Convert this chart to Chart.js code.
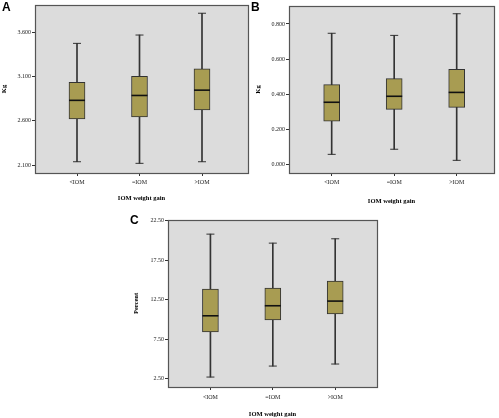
<!DOCTYPE html>
<html>
<head>
<meta charset="utf-8">
<script src="https://cdn.jsdelivr.net/npm/chart.js@4.4.0/dist/chart.umd.min.js"></script>
<style>
  html, body { margin: 0; padding: 0; background: #ffffff; }
  body { width: 499px; height: 418px; position: relative; overflow: hidden; }
  .wrap { position: absolute; }
  .lbl { position: absolute; font-family: "Liberation Sans", Arial, sans-serif; font-weight: bold; font-size: 12px; line-height: 12px; color: #000; }
</style>
</head>
<body>
<div class="wrap" style="left:0px;top:0px;width:252px;height:205px;"><canvas id="cA"></canvas></div>
<div class="wrap" style="left:245px;top:0px;width:254px;height:205px;"><canvas id="cB"></canvas></div>
<div class="wrap" style="left:110px;top:205px;width:275px;height:213px;"><canvas id="cC"></canvas></div>
<div class="lbl" style="left:2px;top:1px;">A</div>
<div class="lbl" style="left:251px;top:1px;">B</div>
<div class="lbl" style="left:130px;top:214px;">C</div>
<script>
// ---- Data ----
const categories = ['<IOM', '=IOM', '>IOM'];
const xTitle = 'IOM weight gain';

// Panel A (Kg)
const aMin    = [2.137, 2.119, 2.137];
const aQ1     = [2.619, 2.643, 2.722];
const aMedian = [2.830, 2.885, 2.945];
const aQ3     = [3.033, 3.100, 3.186];
const aMax    = [3.473, 3.567, 3.813];
const aTicks  = [2.1, 2.6, 3.1, 3.6];

// Panel B (Kg)
const bMin    = [0.059, 0.088, 0.025];
const bQ1     = [0.247, 0.315, 0.326];
const bMedian = [0.355, 0.389, 0.411];
const bQ3     = [0.455, 0.489, 0.542];
const bMax    = [0.747, 0.735, 0.858];
const bTicks  = [0.0, 0.2, 0.4, 0.6, 0.8];

// Panel C (Percent)
const cMin    = [2.71, 4.10, 4.36];
const cQ1     = [8.41, 9.93, 10.69];
const cMedian = [10.47, 11.74, 12.33];
const cQ3     = [13.85, 13.98, 14.86];
const cMax    = [20.81, 19.67, 20.22];
const cTicks  = [2.5, 7.5, 12.5, 17.5, 22.5];

// ---- Styles ----
const BOX_FILL = '#a89c52';
const LINE_DARK = '#333333';
const PLOT_BG = '#dcdcdc';
const PLOT_BORDER = '#555555';

const plotBg = {
  id: 'plotBg',
  beforeDraw(chart) {
    const a = chart.chartArea, ctx = chart.ctx;
    ctx.save();
    ctx.fillStyle = PLOT_BG;
    ctx.fillRect(a.left, a.top, a.right - a.left, a.bottom - a.top);
    ctx.restore();
  },
  afterDraw(chart) {
    const a = chart.chartArea, ctx = chart.ctx;
    ctx.save();
    ctx.strokeStyle = PLOT_BORDER;
    ctx.lineWidth = 1.2;
    ctx.strokeRect(Math.round(a.left) + 0.5, Math.round(a.top) + 0.5,
                   Math.round(a.right - a.left), Math.round(a.bottom - a.top));
    ctx.restore();
  }
};

function pts(vals) { return vals.map((v, i) => ({ x: i, y: v })); }
function ranges(lo, hi) { return lo.map((v, i) => ({ x: i, y: [v, hi[i]] })); }

function makeChart(id, o) {
  const ctx = document.getElementById(id);
  return new Chart(ctx, {
    type: 'bar',
    data: {
      datasets: [
        { type: 'bar', data: ranges(o.min, o.max), grouped: false, barThickness: 1,
          backgroundColor: LINE_DARK, borderWidth: 0, order: 3 },
        { type: 'bar', data: ranges(o.q1, o.q3), grouped: false, barThickness: 16,
          backgroundColor: BOX_FILL, borderColor: LINE_DARK, borderWidth: 1,
          borderSkipped: false, order: 2 },
        { type: 'scatter', data: pts(o.median), pointStyle: 'line', pointRadius: 8,
          borderColor: '#111111', borderWidth: 1.6, order: 1 },
        { type: 'scatter', data: pts(o.min), pointStyle: 'line', pointRadius: 4,
          borderColor: LINE_DARK, borderWidth: 1, order: 1 },
        { type: 'scatter', data: pts(o.max), pointStyle: 'line', pointRadius: 4,
          borderColor: LINE_DARK, borderWidth: 1, order: 1 }
      ]
    },
    options: {
      responsive: true,
      maintainAspectRatio: false,
      animation: false,
      events: [],
      layout: { padding: o.padding, autoPadding: false },
      plugins: { legend: { display: false }, tooltip: { enabled: false } },
      scales: {
        x: {
          type: 'linear', min: o.xMin, max: o.xMax, offset: false,
          afterBuildTicks(s) { s.ticks = categories.map((c, i) => ({ value: i })); },
          afterFit(s) { s.height = o.xAxisH; },
          ticks: {
            callback: (v) => categories[v],
            font: { family: 'Liberation Serif', size: 6 }, color: '#222',
            padding: o.xTickPad, autoSkip: false, maxRotation: 0
          },
          grid: { display: true, offset: false, drawOnChartArea: false, drawTicks: true, tickLength: 3, color: LINE_DARK },
          border: { display: false },
          title: { display: true, text: xTitle, font: { family: 'Liberation Serif', size: 6.5, weight: 'bold' },
                   color: '#000', padding: { top: 0, bottom: o.xTitlePadB } }
        },
        y: {
          type: 'linear', min: o.yMin, max: o.yMax,
          afterBuildTicks(s) { s.ticks = o.ticks.map(v => ({ value: v })); },
          afterFit(s) { s.width = o.yAxisW; },
          ticks: {
            callback: (v) => v.toFixed(o.dec),
            font: { family: 'Liberation Serif', size: 6 }, color: '#222', padding: 1
          },
          grid: { display: true, offset: false, drawOnChartArea: false, drawTicks: true, tickLength: 3, color: LINE_DARK },
          border: { display: false },
          title: { display: true, text: o.yTitle, font: { family: 'Liberation Serif', size: 6.5, weight: 'bold' },
                   color: '#000', padding: { top: o.yTitlePadT, bottom: 0 } }
        }
      }
    },
    plugins: [plotBg]
  });
}

makeChart('cA', {
  min: aMin, q1: aQ1, median: aMedian, q3: aQ3, max: aMax, ticks: aTicks, dec: 3,
  yMin: 2.01, yMax: 3.906, xMin: -0.672, xMax: 2.736, yTitle: 'Kg',
  padding: { left: 0, right: 4, top: 5, bottom: 0 }, yAxisW: 35, xAxisH: 32,
  xTickPad: 3, xTitlePadB: 3, yTitlePadT: 0
});
makeChart('cB', {
  min: bMin, q1: bQ1, median: bMedian, q3: bQ3, max: bMax, ticks: bTicks, dec: 3,
  yMin: -0.047, yMax: 0.902, xMin: -0.683, xMax: 2.597, yTitle: 'Kg',
  padding: { left: 0, right: 5, top: 6, bottom: 0 }, yAxisW: 44, xAxisH: 32,
  xTickPad: 3, xTitlePadB: 0, yTitlePadT: 9
});
makeChart('cC', {
  min: cMin, q1: cQ1, median: cMedian, q3: cQ3, max: cMax, ticks: cTicks, dec: 2,
  yMin: 1.45, yMax: 22.6, xMin: -0.68, xMax: 2.67, yTitle: 'Percent',
  padding: { left: 0, right: 8, top: 15, bottom: 0 }, yAxisW: 58, xAxisH: 31,
  xTickPad: 4, xTitlePadB: 0, yTitlePadT: 22
});
</script>
</body>
</html>
